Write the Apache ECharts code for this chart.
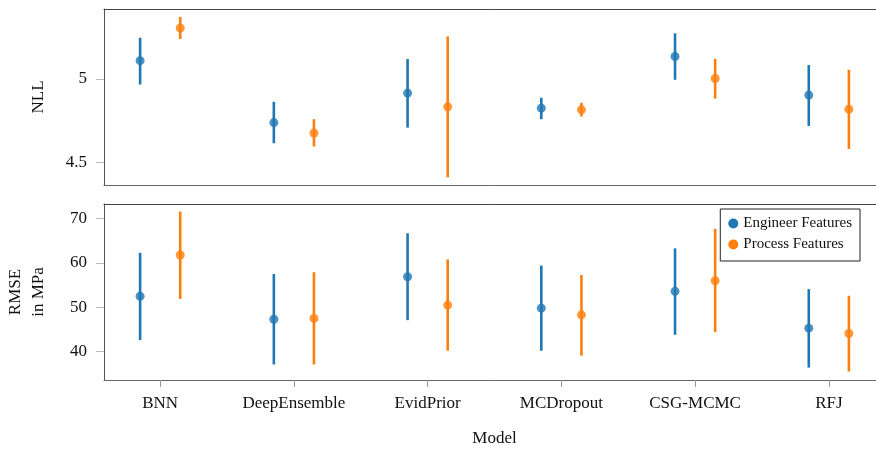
<!DOCTYPE html>
<html lang="en">
<head>
    <meta charset="UTF-8">
    <title>NLL / RMSE per model</title>
    <script src="https://cdn.jsdelivr.net/npm/echarts@6.0.0/dist/echarts.min.js"></script>
    <style>
        html, body { margin: 0; padding: 0; background: #fff; }
        #chart { width: 876px; height: 449px; }
    </style>
</head>
<body>
    <div id="chart"></div>
    <script>
        var categories = ['BNN', 'DeepEnsemble', 'EvidPrior', 'MCDropout', 'CSG-MCMC', 'RFJ'];

        // NLL, engineer features
        var nllEng = [5.108, 4.739, 4.915, 4.825, 5.133, 4.903];
        var nllEngLo = [4.966, 4.616, 4.709, 4.759, 4.994, 4.719];
        var nllEngHi = [5.245, 4.863, 5.118, 4.887, 5.271, 5.082];
        // NLL, process features
        var nllProc = [5.303, 4.677, 4.833, 4.815, 5.002, 4.819];
        var nllProcLo = [5.237, 4.596, 4.413, 4.775, 4.882, 4.582];
        var nllProcHi = [5.369, 4.759, 5.253, 4.857, 5.119, 5.054];

        // RMSE in MPa
        var rmseEng = [52.5, 47.3, 56.9, 49.8, 53.6, 45.3];
        var rmseEngLo = [42.6, 37.1, 47.1, 40.2, 43.8, 36.4];
        var rmseEngHi = [62.3, 57.5, 66.7, 59.4, 63.3, 54.1];
        var rmseProc = [61.8, 47.5, 50.5, 48.3, 56.0, 44.1];
        var rmseProcLo = [51.9, 37.1, 40.2, 39.1, 44.4, 35.5];
        var rmseProcHi = [71.6, 57.9, 60.8, 57.3, 67.7, 52.6];

        var nllTicks = [4.5, 5];
        var rmseTicks = [40, 50, 60, 70];

        var blue = '#1f77b4';
        var orange = '#ff7f0e';
        var font = 'Liberation Serif';
        var shift = 0.15;   // dodge of the two groups

        var chart = echarts.init(document.getElementById('chart'));

        function points(vals, dx) {
            return vals.map(function (v, i) { return [i + dx, v]; });
        }
        function bars(lo, hi, dx) {
            return lo.map(function (l, i) { return [i + dx, l, hi[i]]; });
        }
        function errorItem(params, api) {
            var x = api.value(0);
            var a = api.coord([x, api.value(1)]);
            var b = api.coord([x, api.value(2)]);
            return {
                type: 'line',
                shape: { x1: a[0], y1: a[1], x2: b[0], y2: b[1] },
                style: { stroke: api.visual('color'), lineWidth: 2.6 }
            };
        }

        // frame top line comes from a hidden-label axis at the top
        function frameAxis(idx) {
            return {
                type: 'value', gridIndex: idx, position: 'top', min: -0.42, max: 5.42,
                splitLine: { show: false }, axisTick: { show: false }, axisLabel: { show: false },
                axisLine: { show: true, onZero: false, lineStyle: { color: '#444', width: 1 } }
            };
        }
        function xAxis(idx, showLabels) {
            var catIdx = categories.map(function (c, i) { return i; });
            return {
                type: 'value', gridIndex: idx, position: 'bottom', min: -0.42, max: 5.42,
                splitLine: { show: false },
                axisLine: { show: true, onZero: false, lineStyle: { color: '#666', width: 1 } },
                axisTick: { show: showLabels, customValues: catIdx, length: 7, lineStyle: { color: '#999' } },
                axisLabel: {
                    show: showLabels, customValues: catIdx, margin: 15,
                    color: '#111', fontFamily: font, fontSize: 17,
                    formatter: function (v) { return categories[Math.round(v)]; }
                },
                name: showLabels ? 'Model' : '',
                nameLocation: 'middle', nameGap: 50,
                nameTextStyle: { color: '#111', fontFamily: font, fontSize: 17 }
            };
        }
        function yAxis(idx, min, max, ticks, name, gap) {
            return {
                type: 'value', gridIndex: idx, min: min, max: max,
                splitLine: { show: false },
                axisLine: { show: true, onZero: false, lineStyle: { color: '#555', width: 1 } },
                axisTick: { customValues: ticks, length: 8, lineStyle: { color: '#bbb' } },
                axisLabel: { customValues: ticks, margin: 17, color: '#111', fontFamily: font, fontSize: 17 },
                name: name, nameLocation: 'middle', nameRotate: 90, nameGap: gap,
                nameTextStyle: { color: '#111', fontFamily: font, fontSize: 17, lineHeight: 23 }
            };
        }

        var option = {
            animation: false,
            grid: [
                { left: 104, right: -9, top: 9, height: 176, outerBoundsMode: 'none' },
                { left: 104, right: -9, top: 204, height: 176, outerBoundsMode: 'none' }
            ],
            xAxis: [xAxis(0, false), xAxis(1, true), frameAxis(0), frameAxis(1)],
            yAxis: [
                yAxis(0, 4.367, 5.416, nllTicks, 'NLL', 54),
                yAxis(1, 33.6, 73.3, rmseTicks, 'RMSE\nin MPa', 54)
            ],
            legend: {
                data: [
                    { name: 'Engineer Features', icon: 'circle' },
                    { name: 'Process Features', icon: 'circle' }
                ],
                orient: 'vertical', right: 16, top: 209,
                itemWidth: 10, itemHeight: 10, itemGap: 6, itemTextGap: 2,
                padding: [7, 8, 9, 8],
                borderColor: '#222', borderWidth: 1, borderRadius: 0,
                textStyle: { fontFamily: font, fontSize: 15, color: '#111' }
            },
            series: [
                { type: 'custom', name: 'Engineer Features', xAxisIndex: 0, yAxisIndex: 0, color: blue,
                  renderItem: errorItem, encode: { x: 0, y: [1, 2] }, data: bars(nllEngLo, nllEngHi, -shift), z: 1 },
                { type: 'custom', name: 'Process Features', xAxisIndex: 0, yAxisIndex: 0, color: orange,
                  renderItem: errorItem, encode: { x: 0, y: [1, 2] }, data: bars(nllProcLo, nllProcHi, shift), z: 1 },
                { type: 'custom', name: 'Engineer Features', xAxisIndex: 1, yAxisIndex: 1, color: blue,
                  renderItem: errorItem, encode: { x: 0, y: [1, 2] }, data: bars(rmseEngLo, rmseEngHi, -shift), z: 1 },
                { type: 'custom', name: 'Process Features', xAxisIndex: 1, yAxisIndex: 1, color: orange,
                  renderItem: errorItem, encode: { x: 0, y: [1, 2] }, data: bars(rmseProcLo, rmseProcHi, shift), z: 1 },
                { type: 'scatter', name: 'Engineer Features', xAxisIndex: 0, yAxisIndex: 0, color: blue,
                  symbolSize: 9, data: points(nllEng, -shift), z: 2 },
                { type: 'scatter', name: 'Process Features', xAxisIndex: 0, yAxisIndex: 0, color: orange,
                  symbolSize: 9, data: points(nllProc, shift), z: 2 },
                { type: 'scatter', name: 'Engineer Features', xAxisIndex: 1, yAxisIndex: 1, color: blue,
                  symbolSize: 9, data: points(rmseEng, -shift), z: 2 },
                { type: 'scatter', name: 'Process Features', xAxisIndex: 1, yAxisIndex: 1, color: orange,
                  symbolSize: 9, data: points(rmseProc, shift), z: 2 }
            ]
        };

        chart.setOption(option);
    </script>
</body>
</html>
